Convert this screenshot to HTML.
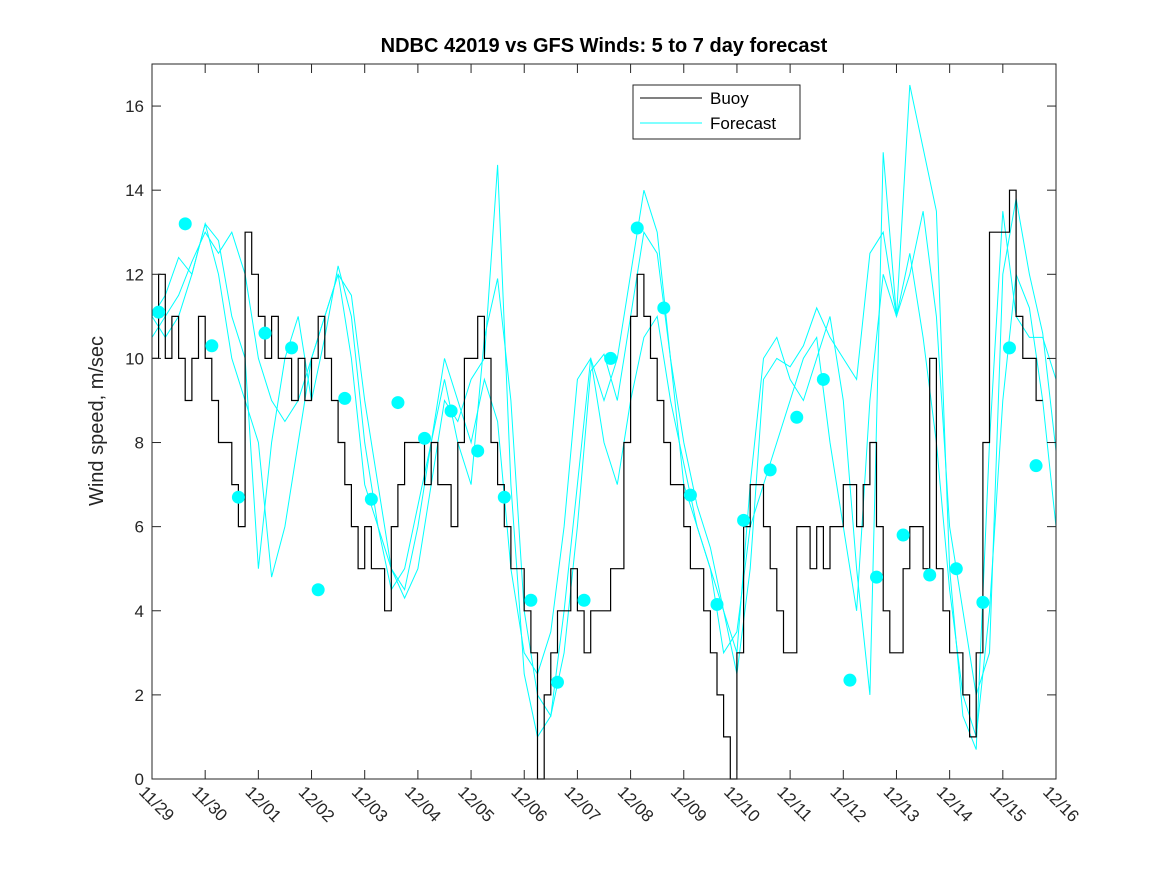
<!DOCTYPE html>
<html><head><meta charset="utf-8"><style>
body{margin:0;background:#fff;}
svg{display:block;font-family:"Liberation Sans","DejaVu Sans",sans-serif;}
</style></head><body>
<svg id="chart" width="1167" height="875">
<rect x="0" y="0" width="1167" height="875" fill="#fff"/>
<text x="604" y="52" text-anchor="middle" font-size="20" font-weight="bold" fill="#000">NDBC 42019 vs GFS Winds: 5 to 7 day forecast</text>
<text transform="translate(103,421) rotate(-90)" text-anchor="middle" font-size="20" fill="#262626">Wind speed, m/sec</text>
<g id="plot"></g>
<g id="axes"></g>
<g>
<rect x="633" y="85" width="167" height="54" fill="#fff" stroke="#262626" stroke-width="1"/>
<line x1="640" y1="98" x2="702" y2="98" stroke="#000" stroke-width="1"/>
<text x="710" y="104" font-size="17" fill="#000">Buoy</text>
<line x1="640" y1="123" x2="702" y2="123" stroke="#0ff" stroke-width="1"/>
<text x="710" y="129" font-size="17" fill="#000">Forecast</text>
</g>
</svg>
<script>
const xTickLabels=["11/29","11/30","12/01","12/02","12/03","12/04","12/05","12/06","12/07","12/08","12/09","12/10","12/11","12/12","12/13","12/14","12/15","12/16"];
const yTicks=[0,2,4,6,8,10,12,14,16];
// buoy, 3-hour (1/8 day) steps from day 0
const buoy=[10,12,10,11, 10,9,10,11, 10,9,8,8, 7,6,13,12, 11,10,11,10, 10,9,10,9, 10,11,10,9, 8,7,6,5, 6,5,5,4, 6,7,8,8, 8,7,8,7, 7,6,8,10, 10,11,10,8, 7,6,5,5, 4,3,0,2, 3,4,4,5, 4,3,4,4, 4,5,5,8, 11,12,11,10, 9,8,7,7, 6,5,5,4, 3,2,1,0, 3,6,7,7, 6,5,4,3, 3,6,6,5, 6,5,6,6, 7,7,6,7, 8,6,4,3, 3,5,6,6, 5,10,5,4, 3,3,2,1, 3,8,13,13, 13,14,11,10, 10,9];
// forecast series, quarter-day steps from day 0
const fcA=[10.5,11,11.5,12.3, 13,12.5,13,12, 10,9,8.5,9, 10,11,12,11.5, 9,7,5,4.3, 5,7,9,8.5, 9.5,10,14.6,7, 2.5,1,1.5,4, 7,10,9,10, 12,14,13,10, 7,6,5,4, 3,7,10,10.5, 9.5,9,10,11, 9,5,2,14.9, 11,16.5,15,13.5, 5,1.5,0.7,8, 13.5,11,10.5,10.5, 9.5];
const fcB=[11,10.5,11,12, 13.2,12.8,11,10, 5,8,10,11, 9,10.5,12.2,11, 8,6,5,4.5, 6,8,9.5,8, 7,10.5,11.9,9, 4,2,1.5,3, 6,9.7,10.1,9, 11,13,12.5,10, 8,6.5,5.5,4, 2.5,5,9.5,10, 9.8,10.3,11.2,10.5, 10,9.5,12.5,13, 11,12,13.5,11, 6,4,2,3, 12,13.8,12,10.6, 7.8];
const fcC=[11,11.5,12.4,12, 13.2,12,10,9, 8,4.8,6,8, 10,11,12,10, 7,6,4.5,5, 6.5,8,10,9, 8,9.5,8.5,5, 3,2.5,3.5,6, 9.5,10,8,7, 9,10.5,11,9, 7.5,6,5,3, 3.5,6,7,8, 9,10,10.5,8, 6,4,9,12, 11,12.5,10.5,8, 4.5,2,1,4, 9,12,11.2,9, 6];
const dotVals=[11.1,13.2,10.3,6.7,10.6,10.25,4.5,9.05,6.65,8.95,8.1,8.75,7.8,6.7,4.25,2.3,4.25,10.0,13.1,11.2,6.75,4.15,6.15,7.35,8.6,9.5,2.35,4.8,5.8,4.85,5.0,4.2,10.25,7.45];

const X0=152,X1=1056,Y0=779,Y1=64,DMAX=17,VMAX=17;
const xs=d=>X0+(X1-X0)*d/DMAX;
const ys=v=>Y0-(Y0-Y1)*v/VMAX;
const NS="http://www.w3.org/2000/svg";
const plot=document.getElementById('plot'),axes=document.getElementById('axes');
function mk(t,a,p){const e=document.createElementNS(NS,t);for(const k in a)e.setAttribute(k,a[k]);p.appendChild(e);return e;}

[fcA,fcB,fcC].forEach((s,i)=>{
  const pts=s.map((v,j)=>xs(Math.min(j*0.25,DMAX)).toFixed(1)+','+ys(v).toFixed(1)).join(' ');
  const e=mk('polyline',{points:pts,fill:'none',stroke:'#0ff','stroke-width':1},plot);
  
  
});
let bp=[];
buoy.forEach((v,j)=>{const d0=j*0.125,d1=d0+0.125;bp.push(xs(d0).toFixed(1)+','+ys(v).toFixed(1));bp.push(xs(d1).toFixed(1)+','+ys(v).toFixed(1));});
const bl=mk('polyline',{points:bp.join(' '),fill:'none',stroke:'#000','stroke-width':1.2},plot);


dotVals.forEach((v,i)=>{
  const c=mk('circle',{cx:xs(0.125+0.5*i),cy:ys(v),r:6.5,fill:'#0ff'},plot);
  
  
});
const box=mk('rect',{x:X0,y:Y1,width:X1-X0,height:Y0-Y1,fill:'none',stroke:'#262626','stroke-width':1},axes);


yTicks.forEach(v=>{
  const y=ys(v);
  mk('line',{x1:X0,y1:y,x2:X0+9,y2:y,stroke:'#262626'},axes);
  mk('line',{x1:X1,y1:y,x2:X1-9,y2:y,stroke:'#262626'},axes);
  const t=mk('text',{x:X0-8,y:y+6,'text-anchor':'end','font-size':17,fill:'#262626'},axes);
  t.textContent=v;
  
  
});
xTickLabels.forEach((lab,i)=>{
  const x=xs(i);
  mk('line',{x1:x,y1:Y0,x2:x,y2:Y0-9,stroke:'#262626'},axes);
  mk('line',{x1:x,y1:Y1,x2:x,y2:Y1+9,stroke:'#262626'},axes);
  const t=mk('text',{x:0,y:0,transform:`translate(${x-14},${Y0+14}) rotate(45)`,'font-size':17,fill:'#262626'},axes);
  t.textContent=lab;
  
  
});
</script>
</body></html>
